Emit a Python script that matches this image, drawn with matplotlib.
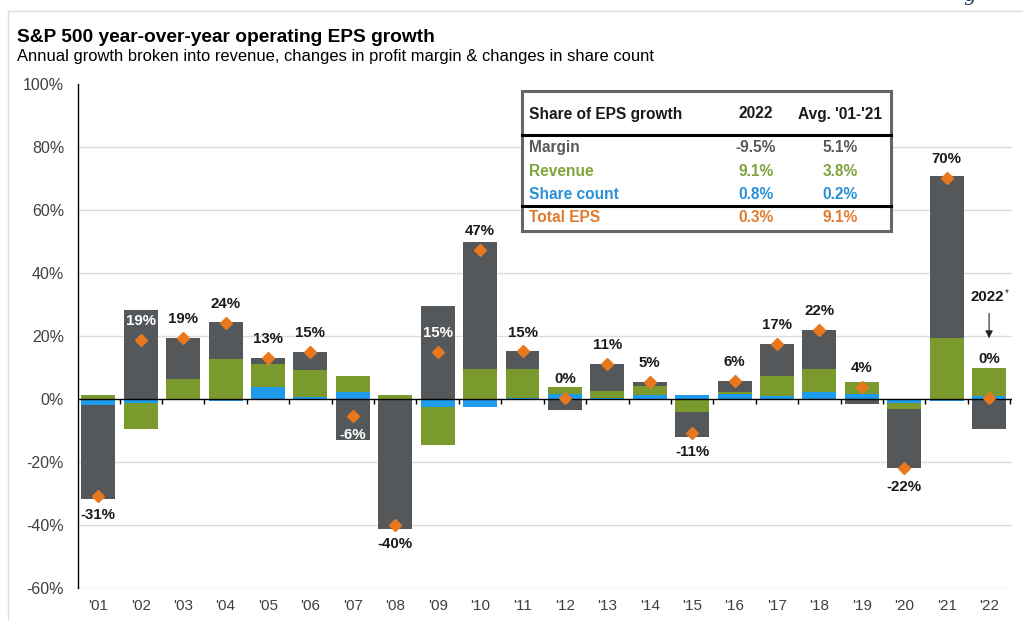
import matplotlib
matplotlib.use('Agg')
import matplotlib.pyplot as plt
import numpy as np
from matplotlib.lines import Line2D
from matplotlib.patches import Rectangle

plt.rcParams['font.family'] = ['Liberation Sans', 'DejaVu Sans']

# ---------------- data ----------------
years = ["'01", "'02", "'03", "'04", "'05", "'06", "'07", "'08", "'09", "'10", "'11",
         "'12", "'13", "'14", "'15", "'16", "'17", "'18", "'19", "'20", "'21", "'22"]
share_count = [-2.0, -1.2, 0.0, -0.5, 3.7, 0.5, 2.3, 0.0, -2.4, -2.4, 0.3,
               1.5, 0.3, 1.2, 1.3, 1.7, 1.0, 2.1, 1.5, -1.3, -0.5, 0.8]
revenue = [1.3, -8.3, 6.3, 12.7, 7.4, 8.8, 5.1, 1.3, -12.1, 9.5, 9.2,
           2.4, 2.1, 3.0, -4.2, 0.4, 6.4, 7.4, 3.9, -1.9, 19.4, 9.1]
margin = [-29.7, 28.2, 13.0, 11.8, 1.8, 5.5, -12.9, -41.3, 29.6, 40.4, 5.6,
          -3.5, 8.8, 1.3, -8.0, 3.7, 10.1, 12.4, -1.6, -18.7, 51.5, -9.5]
total_eps = [-30.7, 18.7, 19.3, 24.0, 12.9, 14.8, -5.5, -40.0, 15.0, 47.4, 15.1,
             0.4, 11.2, 5.4, -10.9, 5.8, 17.4, 21.9, 3.8, -21.9, 70.3, 0.3]
label_above_bar = ["'22"]

y_ticks = [-60, -40, -20, 0, 20, 40, 60, 80, 100]

table_header = ["Share of EPS growth", "2022", "Avg. '01-'21"]
table_rows = ["Margin", "Revenue", "Share count", "Total EPS"]
table_2022 = ["-9.5%", "9.1%", "0.8%", "0.3%"]
table_avg = ["5.1%", "3.8%", "0.2%", "9.1%"]

# ---------------- style ----------------
C_GRAY = '#55585b'
C_GREEN = '#7a9a2e'
C_BLUE = '#1e9bea'
C_ORANGE = '#e8781e'
T_GRAY = '#595959'
T_GREEN = '#80a33a'
T_BLUE = '#2a90d8'
T_ORANGE = '#e07b2e'

W, H = 1023, 621
fig = plt.figure(figsize=(W / 100, H / 100), dpi=100)
fig.patch.set_facecolor('white')


def fx(px):
    return px / W


def fy(py):
    return 1 - py / H


ax_left, ax_right, ax_top, ax_bot = 78, 1012, 84, 588
ax = fig.add_axes([fx(ax_left), fy(ax_bot), (ax_right - ax_left) / W, (ax_bot - ax_top) / H])

x = np.arange(len(years))
ax.set_xlim(-0.48, len(years) - 1 + 0.54)
ax.set_ylim(-60, 100)

# grid lines
for t in y_ticks:
    if t not in (0, 100):
        ax.axhline(t, color='#dcdcdc', lw=1.0, zorder=0)

# stacked bars (positives up, negatives down)
pos = np.zeros(len(years))
neg = np.zeros(len(years))
for vals, col in [(share_count, C_BLUE), (revenue, C_GREEN), (margin, C_GRAY)]:
    v = np.array(vals, dtype=float)
    bottom = np.where(v >= 0, pos, neg)
    ax.bar(x, v, bottom=bottom, width=0.8, color=col, edgecolor='none', zorder=2)
    pos = np.where(v >= 0, pos + v, pos)
    neg = np.where(v < 0, neg + v, neg)

# zero line and boundary ticks
ax.axhline(0, color='black', lw=1.0, zorder=3)
bounds = np.arange(len(years)) + 0.5
ax.vlines(bounds, -1.7, 0, color='black', lw=1.0, zorder=3)

# total EPS markers
ax.plot(x, total_eps, linestyle='none', marker='D', markersize=6.5,
        color=C_ORANGE, markeredgecolor=C_ORANGE, zorder=5)

# labels
for i, t in enumerate(total_eps):
    txt = f"{round(t):.0f}%"
    if years[i] in label_above_bar:
        y = pos[i] + 2.9
    else:
        y = t + (6.0 if t >= 0 else -6.0)
    inside = (neg[i] < y < pos[i])
    ax.text(x[i], y, txt, ha='center', va='center', fontsize=10.8, fontweight='bold',
            color='white' if inside else '#1a1a1a', zorder=6)

# 2022 annotation
i22 = len(years) - 1
ax.annotate('', xy=(x[i22], 18.4), xytext=(x[i22], 28.0),
            arrowprops=dict(arrowstyle='-|>', color='#222222', lw=0.8, mutation_scale=11),
            zorder=6)
ax.text(x[i22] - 0.05, 32.4, '2022', ha='center', va='center', fontsize=10.8,
        fontweight='bold', color='#1a1a1a')
ax.text(x[i22] + 0.42, 33.6, '*', ha='center', va='center', fontsize=7, color='#1a1a1a')

# axes styling
for s in ['top', 'right', 'bottom']:
    ax.spines[s].set_visible(False)
ax.spines['left'].set_color('black')
ax.spines['left'].set_linewidth(1.0)
ax.set_yticks(y_ticks)
ax.set_yticklabels([f"{t}%" for t in y_ticks], fontsize=11.5, color='#404040')
ax.tick_params(axis='y', length=0, pad=10)
ax.set_xticks(x)
ax.set_xticklabels(years, fontsize=11, color='#404040')
ax.tick_params(axis='x', length=0, pad=8)

# ---------------- titles ----------------
fig.text(fx(17), fy(38), "S&P 500 year-over-year operating EPS growth", fontsize=13.8,
         fontweight='bold', color='black', ha='left', va='center')
fig.text(fx(17), fy(56), "Annual growth broken into revenue, changes in profit margin & changes in share count",
         fontsize=11.9, color='black', ha='left', va='center')

# page frame lines
fig.add_artist(Line2D([fx(8), fx(W)], [fy(11), fy(11)], color='#dddddd', lw=1.0))
fig.add_artist(Line2D([fx(8), fx(8)], [fy(11), fy(H)], color='#dddddd', lw=1.0))
fig.text(fx(963), fy(1), 'g', fontsize=14, family='DejaVu Serif', style='italic',
         color='#1f3864', ha='left', va='baseline')

# ---------------- table ----------------
tl, tr, tt, tb = 522, 891, 91, 231
fig.add_artist(Rectangle((fx(tl), fy(tb)), (tr - tl) / W, (tb - tt) / H, facecolor='white',
                         edgecolor='#666666', lw=2.2, zorder=10))
for ly in (134.5, 206):
    fig.add_artist(Line2D([fx(tl), fx(tr)], [fy(ly), fy(ly)], color='black', lw=2.2, zorder=11))

TFS = 11.2
col_x = [529, 756, 840]
fig.text(fx(col_x[0]), fy(114), table_header[0], fontsize=TFS, fontweight='bold',
         color='#1a1a1a', ha='left', va='center', zorder=12)
fig.text(fx(col_x[1]), fy(114), table_header[1], fontsize=TFS, fontweight='bold',
         color='#1a1a1a', ha='center', va='center', zorder=12)
fig.text(fx(col_x[2]), fy(114), table_header[2], fontsize=TFS, fontweight='bold',
         color='#1a1a1a', ha='center', va='center', zorder=12)
row_y = [147.5, 171, 194, 217.5]
row_cols = [T_GRAY, T_GREEN, T_BLUE, T_ORANGE]
for name, v1, v2, ry, c in zip(table_rows, table_2022, table_avg, row_y, row_cols):
    fig.text(fx(col_x[0]), fy(ry), name, fontsize=TFS, fontweight='bold', color=c,
             ha='left', va='center', zorder=12)
    fig.text(fx(col_x[1]), fy(ry), v1, fontsize=TFS, fontweight='bold', color=c,
             ha='center', va='center', zorder=12)
    fig.text(fx(col_x[2]), fy(ry), v2, fontsize=TFS, fontweight='bold', color=c,
             ha='center', va='center', zorder=12)

fig.savefig('out.png', dpi=100, facecolor='white')
